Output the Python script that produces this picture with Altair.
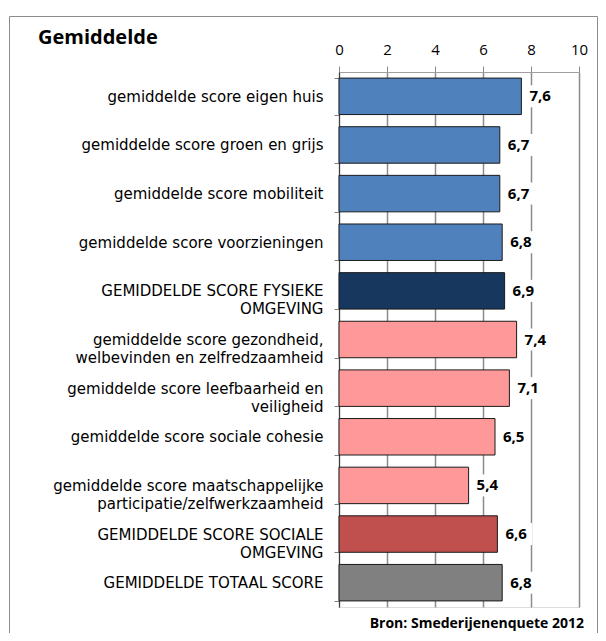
import altair as alt
import pandas as pd

categories = [
    "gemiddelde score eigen huis",
    "gemiddelde score groen en grijs",
    "gemiddelde score mobiliteit",
    "gemiddelde score voorzieningen",
    "GEMIDDELDE SCORE FYSIEKE|OMGEVING",
    "gemiddelde score gezondheid,|welbevinden en zelfredzaamheid",
    "gemiddelde score leefbaarheid en|veiligheid",
    "gemiddelde score sociale cohesie",
    "gemiddelde score maatschappelijke|participatie/zelfwerkzaamheid",
    "GEMIDDELDE SCORE SOCIALE|OMGEVING",
    "GEMIDDELDE TOTAAL SCORE",
]
values = [7.6, 6.7, 6.7, 6.8, 6.9, 7.4, 7.1, 6.5, 5.4, 6.6, 6.8]
groups = ["fysiek", "fysiek", "fysiek", "fysiek", "fysiek totaal",
          "sociaal", "sociaal", "sociaal", "sociaal", "sociaal totaal", "totaal"]
group_domain = ["fysiek", "fysiek totaal", "sociaal", "sociaal totaal", "totaal"]
group_colors = ["#4F81BD", "#17375E", "#FF9999", "#C0504D", "#808080"]
x_ticks = [0, 2, 4, 6, 8, 10]

df = pd.DataFrame({"cat": categories, "value": values, "groep": groups})
one = pd.DataFrame({"a": [0]})

FONT = "Open Sans"
LABEL_FONT = "DejaVu Sans"

y_enc = alt.Y("cat:N", sort=categories,
              scale=alt.Scale(paddingInner=0.25, paddingOuter=0.125),
              axis=alt.Axis(title=None, labelExpr="split(datum.label, '|')",
                            tickBand="extent", ticks=True, tickSize=5,
                            tickColor="#808080", domainColor="#404040",
                            labelPadding=11, labelFontSize=15, labelFont=LABEL_FONT,
                            labelColor="#000000", labelLineHeight=18,
                            labelAlign="right", labelLimit=400))
x_enc = alt.X("value:Q", scale=alt.Scale(domain=[0, 10], nice=False),
              axis=alt.Axis(orient="top", title=None, values=x_ticks,
                            grid=True, gridColor="#8C8C8C", gridWidth=1.5,
                            tickSize=6, tickColor="#8C8C8C", domainColor="#A0A0A0",
                            labelFontSize=15, labelFont=FONT, labelColor="#000000",
                            labelPadding=9, labelFlush=False))

bars = alt.Chart(df).mark_bar(stroke="#1a1a1a", strokeWidth=1).encode(
    x=x_enc, y=y_enc,
    color=alt.Color("groep:N", scale=alt.Scale(domain=group_domain, range=group_colors), legend=None),
)

boxes = alt.Chart(df).mark_bar(color="white", height=22, xOffset=4, x2Offset=35).encode(
    x="value:Q", x2="value:Q", y=alt.Y("cat:N", sort=categories),
)

labels = alt.Chart(df).transform_calculate(
    lab="replace(format(datum.value, '.1f'), '.', ',')"
).mark_text(align="left", baseline="middle", dx=8, font=FONT, fontSize=15,
            fontWeight="bold", color="#000000").encode(
    x="value:Q", y=alt.Y("cat:N", sort=categories), text="lab:N",
)

border = alt.Chart(one).mark_rect(fill=None, stroke="#8C8C8C", strokeWidth=1, clip=False).encode(
    x=alt.value(-329.5), x2=alt.value(258.5), y=alt.value(-55.5), y2=alt.value(620),
)

title = alt.Chart(one).mark_text(align="left", baseline="middle", font=FONT, fontSize=20,
                                 fontWeight="bold", color="#000000").encode(
    x=alt.value(-301), y=alt.value(-34), text=alt.value("Gemiddelde"),
)

source = alt.Chart(one).mark_text(align="right", baseline="middle", font=FONT, fontSize=14,
                                  fontWeight="bold", color="#000000").encode(
    x=alt.value(245), y=alt.value(552), text=alt.value("Bron: Smederijenenquete 2012"),
)

chart = alt.layer(border, bars, boxes, labels, title, source).properties(
    width=240, height=535,
    autosize=alt.AutoSizeParams(type="none"),
    padding={"left": 331, "top": 64, "right": 19, "bottom": 26},
).configure_view(
    fill="#DAEEF3", stroke="#303030", strokeWidth=1
).configure(background="white")

chart.save("out.html", embed_options={"renderer": "svg", "actions": False})
